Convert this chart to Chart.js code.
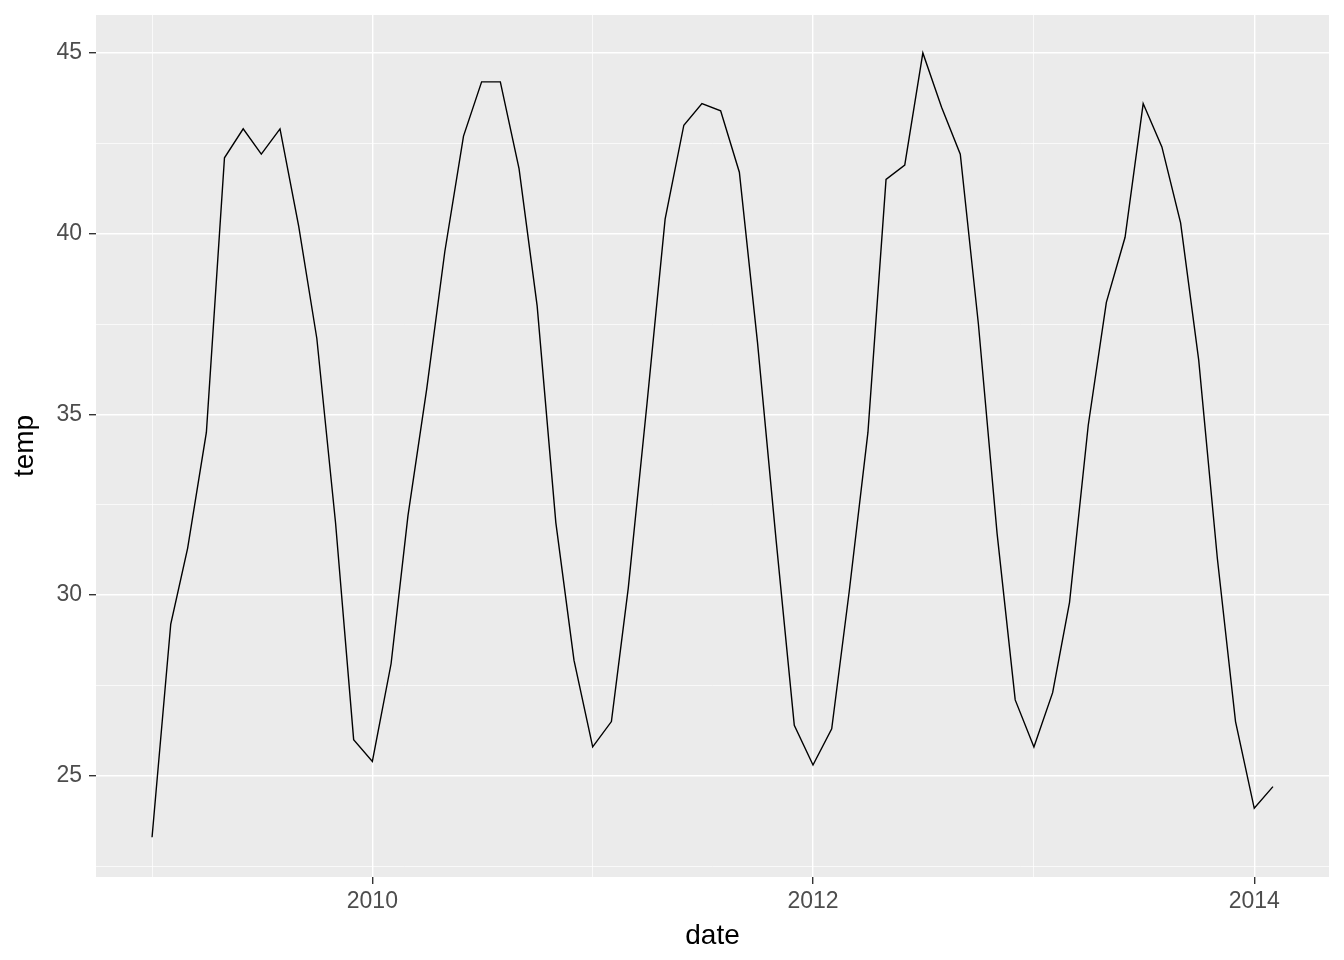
<!DOCTYPE html>
<html>
<head>
<meta charset="utf-8">
<script src="https://cdn.jsdelivr.net/npm/chart.js@4.4.1/dist/chart.umd.min.js"></script>
<style>
  body { margin: 0; background: #fff; }
  #wrap { width: 1344px; height: 960px; }
</style>
</head>
<body>
<div id="wrap"><canvas id="tempChart"></canvas></div>
<script>
// Monthly readings, one per month
const months = [
    '2009-01', '2009-02', '2009-03', '2009-04', '2009-05', '2009-06', '2009-07', '2009-08', '2009-09', '2009-10', '2009-11', '2009-12',
    '2010-01', '2010-02', '2010-03', '2010-04', '2010-05', '2010-06', '2010-07', '2010-08', '2010-09', '2010-10', '2010-11', '2010-12',
    '2011-01', '2011-02', '2011-03', '2011-04', '2011-05', '2011-06', '2011-07', '2011-08', '2011-09', '2011-10', '2011-11', '2011-12',
    '2012-01', '2012-02', '2012-03', '2012-04', '2012-05', '2012-06', '2012-07', '2012-08', '2012-09', '2012-10', '2012-11', '2012-12',
    '2013-01', '2013-02', '2013-03', '2013-04', '2013-05', '2013-06', '2013-07', '2013-08', '2013-09', '2013-10', '2013-11', '2013-12',
    '2014-01', '2014-02'
];
const temps = [
    23.3, 29.2, 31.3, 34.5, 42.1, 42.9, 42.2, 42.9, 40.2, 37.1, 32.0, 26.0,
    25.4, 28.1, 32.2, 35.7, 39.5, 42.7, 44.2, 44.2, 41.8, 38.0, 32.0, 28.2,
    25.8, 26.5, 30.2, 35.3, 40.4, 43.0, 43.6, 43.4, 41.7, 37.0, 31.5, 26.4,
    25.3, 26.3, 30.1, 34.5, 41.5, 41.9, 45.0, 43.5, 42.2, 37.5, 31.7, 27.1,
    25.8, 27.3, 29.8, 34.7, 38.1, 39.9, 43.6, 42.4, 40.3, 36.5, 31.0, 26.5,
    24.1, 24.7
];

// Axis breaks (major ones get labels, minor ones only a thin grid line)
const xBreaks = [2010, 2012, 2014];
const xMinorBreaks = [2009, 2011, 2013];
const yBreaks = [25, 30, 35, 40, 45];
const yMinorBreaks = [22.5, 27.5, 32.5, 37.5, 42.5];
const yLimits = [22.2, 46.05];

function toTime(ym) {
    const [y, m] = ym.split('-').map(Number);
    return Date.UTC(y, m - 1, 1);
}
function yearStart(y) {
    return Date.UTC(y, 0, 1);
}
function isMajorX(v) {
    return xBreaks.some(y => yearStart(y) === v);
}

// ggplot-like grey panel behind the grid
const panelBg = {
    id: 'panelBg',
    beforeDraw(chart) {
        const { ctx, chartArea: a } = chart;
        ctx.save();
        ctx.fillStyle = '#EBEBEB';
        ctx.fillRect(a.left, a.top, a.right - a.left, a.bottom - a.top);
        ctx.restore();
    }
};

function createTempChart() {
    const ctx = document.getElementById('tempChart').getContext('2d');
    const t0 = toTime(months[0]);
    const t1 = toTime(months[months.length - 1]);
    const expand = (t1 - t0) * 0.05;

    Chart.defaults.font.family = "'Liberation Sans', Arial, sans-serif";

    new Chart(ctx, {
        type: 'line',
        data: {
            datasets: [{
                label: 'temp',
                data: months.map((m, i) => ({ x: toTime(m), y: temps[i] })),
                borderColor: '#000000',
                borderWidth: 1.4,
                pointRadius: 0,
                fill: false,
                tension: 0,
            }]
        },
        options: {
            responsive: true,
            maintainAspectRatio: false,
            animation: false,
            layout: { padding: { top: 15, right: 15, left: 0, bottom: 0 } },
            plugins: {
                legend: { display: false },
                tooltip: { enabled: false },
            },
            scales: {
                x: {
                    type: 'linear',
                    min: t0 - expand,
                    max: t1 + expand,
                    afterBuildTicks: scale => {
                        scale.ticks = xMinorBreaks.concat(xBreaks).sort()
                            .map(y => ({ value: yearStart(y) }));
                    },
                    afterFit: scale => {
                        scale.height = 83;
                        scale.paddingLeft = 0;
                        scale.paddingRight = 0;
                    },
                    border: { display: false },
                    grid: {
                        color: '#FFFFFF',
                        lineWidth: c => (c.tick && isMajorX(c.tick.value)) ? 1.4 : 0.7,
                        tickColor: c => (c.tick && isMajorX(c.tick.value)) ? '#333333' : 'rgba(0,0,0,0)',
                        tickWidth: 1.4,
                        tickLength: 7,
                    },
                    ticks: {
                        autoSkip: false,
                        maxRotation: 0,
                        padding: 3.5,
                        color: '#4D4D4D',
                        font: { size: 23 },
                        callback: v => isMajorX(v) ? String(new Date(v).getUTCFullYear()) : '',
                    },
                    title: {
                        display: true,
                        text: 'date',
                        color: '#000000',
                        font: { size: 28 },
                        padding: { top: 0, bottom: 7 },
                    },
                },
                y: {
                    type: 'linear',
                    min: yLimits[0],
                    max: yLimits[1],
                    afterBuildTicks: scale => {
                        scale.ticks = yMinorBreaks.concat(yBreaks).sort((a, b) => a - b)
                            .map(v => ({ value: v }));
                    },
                    afterFit: scale => {
                        scale.width = 96;
                        scale.paddingTop = 0;
                        scale.paddingBottom = 0;
                    },
                    border: { display: false },
                    grid: {
                        color: '#FFFFFF',
                        lineWidth: c => (c.tick && yBreaks.includes(c.tick.value)) ? 1.4 : 0.7,
                        tickColor: c => (c.tick && yBreaks.includes(c.tick.value)) ? '#333333' : 'rgba(0,0,0,0)',
                        tickWidth: 1.4,
                        tickLength: 7,
                    },
                    ticks: {
                        autoSkip: false,
                        padding: 7,
                        color: '#4D4D4D',
                        font: { size: 23 },
                        callback: v => yBreaks.includes(v) ? String(v) : '',
                    },
                    title: {
                        display: true,
                        text: 'temp',
                        color: '#000000',
                        font: { size: 28 },
                        padding: { top: 8, bottom: 0 },
                    },
                },
            },
        },
        plugins: [panelBg]
    });
}

window.onload = function() {
    createTempChart();
};
</script>
</body>
</html>
